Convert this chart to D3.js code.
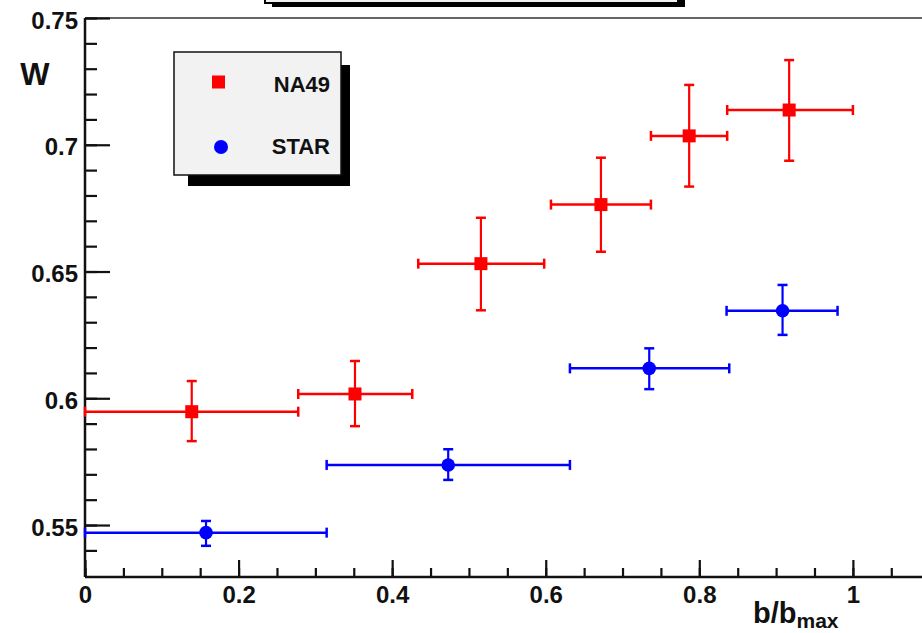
<!DOCTYPE html>
<html>
<head>
<meta charset="utf-8">
<script src="https://cdn.jsdelivr.net/npm/d3@7"></script>
<style>
  html, body { margin: 0; padding: 0; background: #ffffff; }
  svg { display: block; }
  text { font-family: "Liberation Sans", Arial, sans-serif; font-weight: bold; fill: #111; }
</style>
</head>
<body>
<script>
// ---- data ----
const seriesNames = ["NA49", "STAR"];
const na49X    = [0.139, 0.3516, 0.5156, 0.6719, 0.7868, 0.917];
const na49Y    = [0.5947, 0.6017, 0.6531, 0.6764, 0.7035, 0.7137];
const na49XLo  = [0.0, 0.2777, 0.434, 0.6068, 0.737, 0.8363];
const na49XHi  = [0.2777, 0.4262, 0.598, 0.737, 0.8363, 1.0];
const na49YLo  = [0.5831, 0.589, 0.6347, 0.6578, 0.6835, 0.6937];
const na49YHi  = [0.6068, 0.6147, 0.6712, 0.6949, 0.7236, 0.7334];

const starX    = [0.1576, 0.473, 0.7348, 0.9084];
const starY    = [0.547, 0.5737, 0.6118, 0.6345];
const starXLo  = [0.0, 0.3147, 0.6315, 0.8355];
const starXHi  = [0.3147, 0.6315, 0.839, 0.98];
const starYLo  = [0.5418, 0.5678, 0.6036, 0.625];
const starYHi  = [0.5516, 0.5799, 0.6197, 0.6447];

const xTickLabels = [0, 0.2, 0.4, 0.6, 0.8, 1];
const yTickLabels = [0.55, 0.6, 0.65, 0.7, 0.75];
const xMinorTicks = d3.range(0, 1.0901, 0.05);
const yMinorTicks = d3.range(0.54, 0.7501, 0.01);

// ---- layout ----
const W = 922, H = 633;
const svg = d3.select("body").append("svg").attr("width", W).attr("height", H);
svg.append("rect").attr("width", W).attr("height", H).attr("fill", "#ffffff");

const x = d3.scaleLinear().domain([0, 1.09]).range([85, 922]);
const y = d3.scaleLinear().domain([0.5295, 0.75]).range([577, 18]);

// title box (cut off at top)
svg.append("rect").attr("x", 272).attr("y", -40).attr("width", 413).attr("height", 47).attr("fill", "#000");
svg.append("rect").attr("x", 265).attr("y", -44).attr("width", 413).attr("height", 47)
  .attr("fill", "#f2f2f2").attr("stroke", "#000").attr("stroke-width", 2);

// frame top line
svg.append("line").attr("x1", x(0)).attr("x2", W).attr("y1", y(0.75)).attr("y2", y(0.75))
  .attr("stroke", "#333").attr("stroke-width", 1.5);

// ---- axes ----
const gx = svg.append("g").attr("transform", `translate(0,${y.range()[0]})`);
gx.call(d3.axisBottom(x).tickValues(xMinorTicks).tickSize(-9).tickFormat(""));
const gxMaj = svg.append("g").attr("transform", `translate(0,${y.range()[0]})`);
gxMaj.call(d3.axisBottom(x).tickValues(xTickLabels).tickSize(-17).tickFormat(d3.format("")));
gxMaj.selectAll("text").attr("y", 26).attr("dy", 0).style("font-size", "24px").style("fill", "#111");

const gy = svg.append("g").attr("transform", `translate(${x.range()[0]},0)`);
gy.call(d3.axisLeft(y).tickValues(yMinorTicks).tickSize(-12).tickFormat(""));
const gyMaj = svg.append("g").attr("transform", `translate(${x.range()[0]},0)`);
gyMaj.call(d3.axisLeft(y).tickValues(yTickLabels).tickSize(-25).tickPadding(7).tickFormat(d3.format("")));
gyMaj.selectAll("text").attr("dy", "0.42em").style("font-size", "24px").style("fill", "#111");

[gx, gxMaj, gy, gyMaj].forEach(g => {
  g.selectAll(".tick line").attr("stroke", "#111").attr("stroke-width", 2.2);
  g.select(".domain").attr("stroke", "#111").attr("stroke-width", 2.5);
  g.selectAll("text").style("font-family", '"Liberation Sans", Arial, sans-serif').style("font-weight", "bold");
});
gx.select(".domain").attr("d", `M${x.range()[0]},0H${W}`);
gxMaj.select(".domain").remove();
gy.select(".domain").attr("d", `M0,${y.range()[0]}V${y.range()[1]}`);
gyMaj.select(".domain").remove();

// axis titles
svg.append("text").attr("x", 35).attr("y", 85).attr("text-anchor", "middle")
  .style("font-size", "31px").text("W");
const xt = svg.append("text").attr("x", 753).attr("y", 623).style("font-size", "29px");
xt.append("tspan").text("b/b");
xt.append("tspan").attr("dy", 5).style("font-size", "21px").text("max");

// ---- data points ----
function drawSeries(xs, ys, xlo, xhi, ylo, yhi, color, shape) {
  const g = svg.append("g");
  const idx = d3.range(xs.length);
  const cap = 5;
  g.selectAll(".hb").data(idx).join("line")
    .attr("x1", i => x(xlo[i])).attr("x2", i => x(xhi[i]))
    .attr("y1", i => y(ys[i])).attr("y2", i => y(ys[i]))
    .attr("stroke", color).attr("stroke-width", 2.5);
  g.selectAll(".hc1").data(idx).join("line")
    .attr("x1", i => x(xlo[i])).attr("x2", i => x(xlo[i]))
    .attr("y1", i => y(ys[i]) - cap).attr("y2", i => y(ys[i]) + cap)
    .attr("stroke", color).attr("stroke-width", 2.5);
  g.selectAll(".hc2").data(idx).join("line")
    .attr("x1", i => x(xhi[i])).attr("x2", i => x(xhi[i]))
    .attr("y1", i => y(ys[i]) - cap).attr("y2", i => y(ys[i]) + cap)
    .attr("stroke", color).attr("stroke-width", 2.5);
  g.selectAll(".vb").data(idx).join("line")
    .attr("x1", i => x(xs[i])).attr("x2", i => x(xs[i]))
    .attr("y1", i => y(ylo[i])).attr("y2", i => y(yhi[i]))
    .attr("stroke", color).attr("stroke-width", 2.2);
  g.selectAll(".vc1").data(idx).join("line")
    .attr("x1", i => x(xs[i]) - cap).attr("x2", i => x(xs[i]) + cap)
    .attr("y1", i => y(ylo[i])).attr("y2", i => y(ylo[i]))
    .attr("stroke", color).attr("stroke-width", 2.5);
  g.selectAll(".vc2").data(idx).join("line")
    .attr("x1", i => x(xs[i]) - cap).attr("x2", i => x(xs[i]) + cap)
    .attr("y1", i => y(yhi[i])).attr("y2", i => y(yhi[i]))
    .attr("stroke", color).attr("stroke-width", 2.5);
  if (shape === "square") {
    g.selectAll(".m").data(idx).join("rect")
      .attr("x", i => x(xs[i]) - 6.5).attr("y", i => y(ys[i]) - 6.5)
      .attr("width", 13).attr("height", 13).attr("fill", color);
  } else {
    g.selectAll(".m").data(idx).join("circle")
      .attr("cx", i => x(xs[i])).attr("cy", i => y(ys[i])).attr("r", 6.8).attr("fill", color);
  }
}
drawSeries(na49X, na49Y, na49XLo, na49XHi, na49YLo, na49YHi, "#ff0000", "square");
drawSeries(starX, starY, starXLo, starXHi, starYLo, starYHi, "#0000ff", "circle");

// ---- legend ----
const lg = svg.append("g");
lg.append("rect").attr("x", 188).attr("y", 65).attr("width", 162).attr("height", 121).attr("fill", "#000");
lg.append("rect").attr("x", 174).attr("y", 52).attr("width", 167).attr("height", 123)
  .attr("fill", "#f2f2f2").attr("stroke", "#111").attr("stroke-width", 1.5);
lg.append("rect").attr("x", 212).attr("y", 75.5).attr("width", 13).attr("height", 13).attr("fill", "#ff0000");
lg.append("circle").attr("cx", 221).attr("cy", 147).attr("r", 7).attr("fill", "#0000ff");
lg.append("text").attr("x", 330).attr("y", 92).attr("text-anchor", "end").style("font-size", "22px").text(seriesNames[0]);
lg.append("text").attr("x", 330).attr("y", 154).attr("text-anchor", "end").style("font-size", "22px").text(seriesNames[1]);
</script>
</body>
</html>
